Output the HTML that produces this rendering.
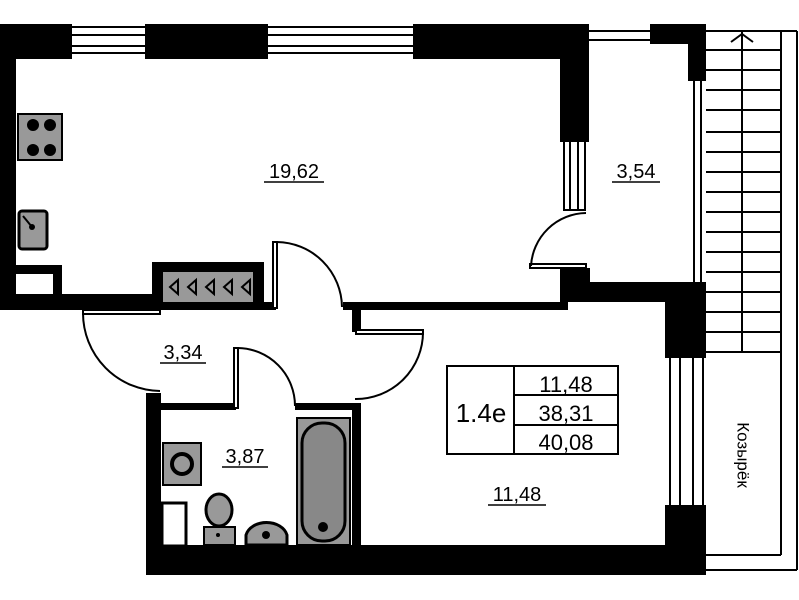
<!DOCTYPE html>
<html><head><meta charset="utf-8"><style>
html,body{margin:0;padding:0;background:#fff;}
svg{display:block;}
text{font-family:"Liberation Sans","DejaVu Sans",sans-serif;}
</style></head><body>
<svg width="799" height="600" viewBox="0 0 799 600" xmlns="http://www.w3.org/2000/svg">
<rect width="799" height="600" fill="#fff"/>
<g stroke="#000" stroke-width="2" fill="none">
<line x1="72" y1="27" x2="145" y2="27"/><line x1="72" y1="35" x2="145" y2="35"/><line x1="72" y1="46" x2="145" y2="46"/><line x1="72" y1="53" x2="145" y2="53"/>
<line x1="268" y1="27" x2="413" y2="27"/><line x1="268" y1="35" x2="413" y2="35"/><line x1="268" y1="46" x2="413" y2="46"/><line x1="268" y1="53" x2="413" y2="53"/>
<line x1="588" y1="31" x2="650" y2="31"/><line x1="588" y1="40" x2="650" y2="40"/>
<line x1="564" y1="142" x2="564" y2="210"/><line x1="570" y1="142" x2="570" y2="210"/><line x1="578" y1="142" x2="578" y2="210"/><line x1="585" y1="142" x2="585" y2="210"/>
<line x1="563" y1="210" x2="586" y2="210"/>
<line x1="694" y1="80" x2="694" y2="282"/><line x1="701" y1="80" x2="701" y2="282"/>
<line x1="670" y1="358" x2="670" y2="505"/><line x1="680" y1="358" x2="680" y2="505"/><line x1="693" y1="358" x2="693" y2="505"/><line x1="703" y1="358" x2="703" y2="505"/>
</g>
<g fill="#000">
<rect x="0" y="24" width="72" height="35"/>
<rect x="145" y="24" width="123" height="35"/>
<rect x="413" y="24" width="175" height="35"/>
<rect x="560" y="24" width="29" height="118"/>
<rect x="650" y="24" width="56" height="20"/>
<rect x="688" y="24" width="18" height="57"/>
<rect x="0" y="24" width="16" height="286"/>
<rect x="0" y="294" width="160" height="16"/>
<rect x="16" y="265" width="46" height="9"/>
<rect x="53" y="265" width="9" height="32"/>
<rect x="152" y="262" width="112" height="48"/>
<rect x="262" y="302" width="14" height="8"/>
<rect x="343" y="302" width="225" height="8"/>
<rect x="560" y="268" width="30" height="34"/>
<rect x="560" y="282" width="146" height="20"/>
<rect x="665" y="282" width="41" height="76"/>
<rect x="665" y="505" width="41" height="70"/>
<rect x="352" y="302" width="9" height="30"/>
<rect x="146" y="393" width="15" height="182"/>
<rect x="146" y="403" width="90" height="7"/>
<rect x="295" y="403" width="66" height="7"/>
<rect x="352" y="403" width="9" height="150"/>
<rect x="146" y="545" width="560" height="30"/>
</g>
<rect x="163" y="272" width="90" height="30" fill="#999"/>
<g stroke="#000" stroke-width="2" fill="none">
<path d="M170 287 l8 -7 v14 z M188 287 l8 -7 v14 z M206 287 l8 -7 v14 z M224 287 l8 -7 v14 z M242 287 l8 -7 v14 z"/>
</g>
<rect x="16" y="274" width="37" height="20" fill="#fff"/>
<rect x="18" y="114" width="44" height="46" fill="#999" stroke="#000" stroke-width="2"/>
<g fill="#000"><circle cx="33" cy="125" r="6"/><circle cx="50" cy="125" r="6"/><circle cx="33" cy="150" r="6"/><circle cx="50" cy="150" r="6"/></g>
<rect x="19" y="211" width="28" height="38" rx="3" fill="#999" stroke="#000" stroke-width="3"/>
<circle cx="32" cy="227" r="3" fill="#000"/><line x1="23" y1="216" x2="32" y2="227" stroke="#000" stroke-width="2"/>
<g stroke="#000" stroke-width="2" fill="none">
<rect x="273" y="242" width="4" height="66" fill="#fff"/>
<path d="M277 242 A66 66 0 0 1 342 307"/>
<rect x="356" y="330" width="67" height="4" fill="#fff"/>
<path d="M423 332 A67 67 0 0 1 355 399"/>
<rect x="83" y="310" width="77" height="4" fill="#fff"/>
<path d="M83 313 A78 78 0 0 0 160 391"/>
<rect x="234" y="348" width="4" height="60" fill="#fff"/>
<path d="M238 348 A58 58 0 0 1 295 406"/>
<rect x="530" y="264" width="56" height="4" fill="#fff"/>
<path d="M586 213 A56 56 0 0 0 531 266"/>
</g>
<rect x="297" y="418" width="53" height="127" fill="#999" stroke="#000" stroke-width="2"/>
<rect x="302" y="423" width="43" height="118" rx="20" fill="#888" stroke="#000" stroke-width="3"/>
<circle cx="323" cy="527" r="5" fill="#000"/>
<rect x="163" y="443" width="38" height="42" fill="#999" stroke="#000" stroke-width="2"/>
<circle cx="182" cy="464" r="10" fill="#999" stroke="#000" stroke-width="4"/>
<rect x="162" y="503" width="24" height="43" fill="#fff" stroke="#000" stroke-width="3"/>
<rect x="204" y="527" width="31" height="18" fill="#999" stroke="#000" stroke-width="2"/>
<ellipse cx="219" cy="510" rx="13" ry="16" fill="#999" stroke="#000" stroke-width="3"/>
<circle cx="218" cy="535" r="2" fill="#000"/>
<path d="M246 545 V535 A21 16 0 0 1 287 535 V545 Z" fill="#999" stroke="#000" stroke-width="3"/>
<circle cx="266" cy="535" r="4" fill="#000"/>
<g stroke="#000" stroke-width="2" fill="none">
<line x1="706" y1="31" x2="797" y2="31"/>
<line x1="781" y1="31" x2="781" y2="555"/>
<line x1="797" y1="31" x2="797" y2="570"/>
<line x1="706" y1="570" x2="797" y2="570"/>
<line x1="706" y1="555" x2="781" y2="555"/>
<line x1="706" y1="352" x2="781" y2="352"/>
<line x1="742" y1="31" x2="742" y2="352"/>
<path d="M731 42 L742 34 L753 42"/>
<line x1="706" y1="50" x2="781" y2="50"/><line x1="706" y1="70" x2="781" y2="70"/><line x1="706" y1="90" x2="781" y2="90"/><line x1="706" y1="110" x2="781" y2="110"/><line x1="706" y1="132" x2="781" y2="132"/><line x1="706" y1="152" x2="781" y2="152"/><line x1="706" y1="172" x2="781" y2="172"/><line x1="706" y1="192" x2="781" y2="192"/><line x1="706" y1="212" x2="781" y2="212"/><line x1="706" y1="232" x2="781" y2="232"/><line x1="706" y1="252" x2="781" y2="252"/><line x1="706" y1="272" x2="781" y2="272"/><line x1="706" y1="292" x2="781" y2="292"/><line x1="706" y1="312" x2="781" y2="312"/><line x1="706" y1="332" x2="781" y2="332"/>
</g>
<text x="742" y="455" font-size="17" text-anchor="middle" transform="rotate(90 742 455)" dominant-baseline="middle">Козырёк</text>
<g stroke="#000" stroke-width="2" fill="none">
<rect x="447" y="366" width="171" height="88"/>
<line x1="514" y1="366" x2="514" y2="454"/>
<line x1="514" y1="395" x2="618" y2="395"/>
<line x1="514" y1="425" x2="618" y2="425"/>
</g>
<text x="481" y="422" font-size="26" text-anchor="middle">1.4е</text>
<text x="566" y="392" font-size="22" text-anchor="middle">11,48</text>
<text x="566" y="421" font-size="22" text-anchor="middle">38,31</text>
<text x="566" y="450" font-size="22" text-anchor="middle">40,08</text>
<g font-size="20" text-anchor="middle">
<text x="294" y="178">19,62</text>
<text x="636" y="178">3,54</text>
<text x="183" y="359">3,34</text>
<text x="245" y="463">3,87</text>
<text x="517" y="501">11,48</text>
</g>
<g stroke="#000" stroke-width="1.5">
<line x1="264" y1="182" x2="324" y2="182"/>
<line x1="612" y1="182" x2="660" y2="182"/>
<line x1="160" y1="363" x2="206" y2="363"/>
<line x1="222" y1="467" x2="268" y2="467"/>
<line x1="488" y1="505" x2="546" y2="505"/>
</g>
</svg>
</body></html>
